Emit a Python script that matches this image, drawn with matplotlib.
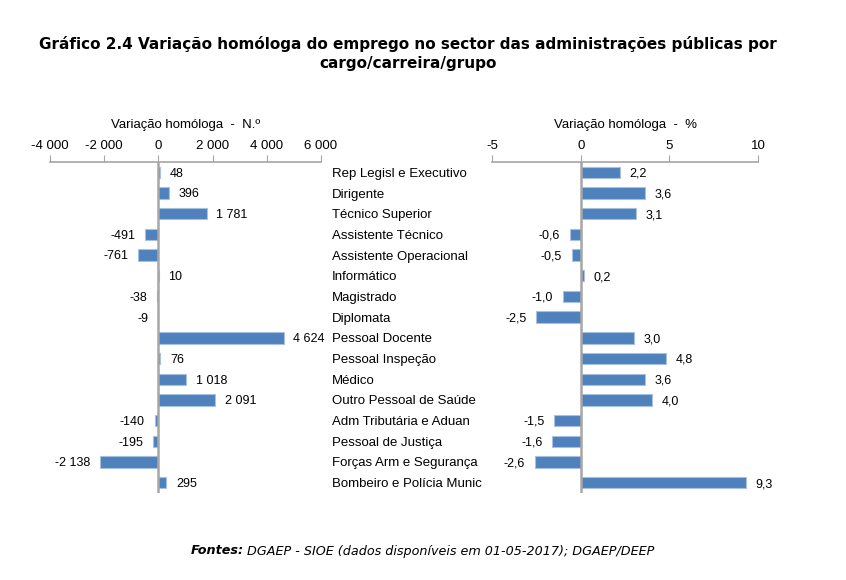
import matplotlib.pyplot as plt
from matplotlib.ticker import FuncFormatter

# dados
categorias = ['Rep Legisl e Executivo', 'Dirigente', 'Técnico Superior', 'Assistente Técnico',
              'Assistente Operacional', 'Informático', 'Magistrado', 'Diplomata', 'Pessoal Docente',
              'Pessoal Inspeção', 'Médico', 'Outro Pessoal de Saúde', 'Adm Tributária e Aduan',
              'Pessoal de Justiça', 'Forças Arm e Segurança', 'Bombeiro e Polícia Munic']
variacao_n = [48, 396, 1781, -491, -761, 10, -38, -9, 4624, 76, 1018, 2091, -140, -195, -2138, 295]
variacao_pct = [2.2, 3.6, 3.1, -0.6, -0.5, 0.2, -1.0, -2.5, 3.0, 4.8, 3.6, 4.0, -1.5, -1.6, -2.6, 9.3]
ticks_n = [-4000, -2000, 0, 2000, 4000, 6000]
ticks_pct = [-5, 0, 5, 10]

azul = '#4F81BD'
cinza = '#A6A6A6'
plt.rcParams['font.family'] = ['Liberation Sans', 'DejaVu Sans']

def fmt_milhares(v):
    s = f'{abs(int(v)):,}'.replace(',', ' ')
    return ('-' if v < 0 else '') + s

def fmt_pct(v):
    return f'{v:.1f}'.replace('.', ',')

fig = plt.figure(figsize=(8.46, 5.8), dpi=100)
ax1 = fig.add_axes([0.0591, 0.150, 0.3203, 0.5707])
ax2 = fig.add_axes([0.5816, 0.150, 0.3144, 0.5707])

y = list(range(len(categorias)))

def desenha(ax, valores, ticks, fmt_tick, fmt_val, titulo):
    ax.barh(y, valores, height=0.55, color=azul, edgecolor='#A9C1E0', linewidth=0.8, zorder=2)
    ax.axvline(0, color=cinza, lw=1.8, zorder=3)
    ax.set_xlim(ticks[0], ticks[-1])
    ax.set_ylim(len(categorias) - 0.5, -0.5)
    ax.xaxis.tick_top()
    ax.xaxis.set_label_position('top')
    ax.set_xticks(ticks)
    ax.xaxis.set_major_formatter(FuncFormatter(lambda v, p: fmt_tick(v)))
    ax.tick_params(axis='x', direction='out', length=5, color=cinza, labelsize=9.5, pad=2)
    ax.set_xlabel(titulo, fontsize=9.5, labelpad=9)
    for s in ['bottom', 'left', 'right']:
        ax.spines[s].set_visible(False)
    ax.spines['top'].set_color(cinza)
    ax.spines['top'].set_linewidth(1.2)
    for i, v in enumerate(valores):
        if v >= 0:
            ax.annotate(fmt_val(v), (v, i), xytext=(7, -1), textcoords='offset points',
                        ha='left', va='center', fontsize=9)
        else:
            ax.annotate(fmt_val(v), (v, i), xytext=(-7, -1), textcoords='offset points',
                        ha='right', va='center', fontsize=9)

desenha(ax1, variacao_n, ticks_n, fmt_milhares, fmt_milhares, 'Variação homóloga  -  N.º')
desenha(ax2, variacao_pct, ticks_pct, lambda v: f'{int(v)}', fmt_pct, 'Variação homóloga  -  %')

# nomes das categorias entre os dois graficos
ax1.yaxis.tick_right()
ax1.set_yticks(y)
ax1.set_yticklabels(categorias, fontsize=9.5)
ax1.tick_params(axis='y', length=0, pad=8)
ax2.set_yticks([])

fig.text(0.482, 0.908, 'Gráfico 2.4 Variação homóloga do emprego no sector das administrações públicas por\ncargo/carreira/grupo',
         ha='center', va='center', fontsize=11, fontweight='bold', family='DejaVu Sans', linespacing=1.3)

# rodape: "Fontes:" a negrito seguido do resto
r = fig.canvas.get_renderer()
t1 = fig.text(0.225, 0.05, 'Fontes:', ha='left', va='center', fontsize=9.2, fontweight='bold',
              style='italic', family='DejaVu Sans')
larg = t1.get_window_extent(renderer=r).width / fig.bbox.width
fig.text(0.225 + larg + 0.004, 0.05, 'DGAEP - SIOE (dados disponíveis em 01-05-2017); DGAEP/DEEP',
         ha='left', va='center', fontsize=9.2, style='italic', family='DejaVu Sans')

fig.savefig('out.png', dpi=100)
